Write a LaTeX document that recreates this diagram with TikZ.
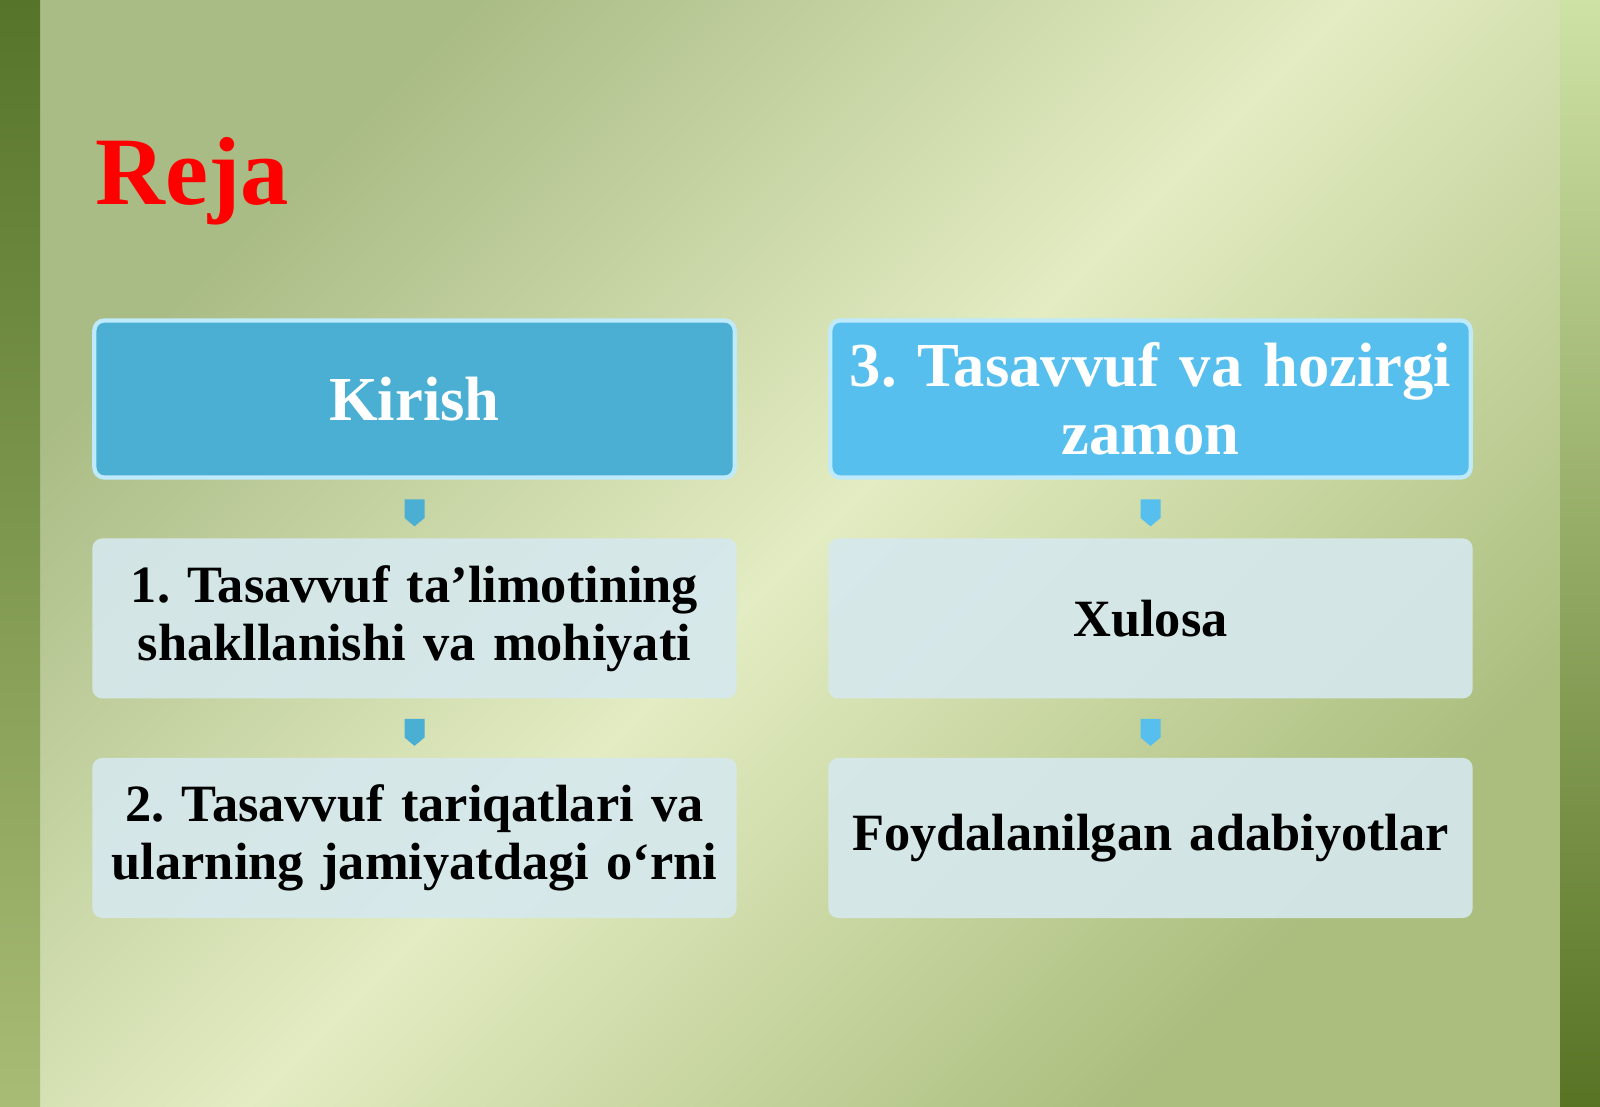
\documentclass[tikz,border=0pt]{standalone}
\usepackage{fontspec}
\setmainfont{Liberation Serif}
\usetikzlibrary{positioning,shapes.arrows}

\definecolor{bgdark}{HTML}{AABC86}
\definecolor{bglight}{HTML}{E3ECC2}
\definecolor{bgdarkb}{HTML}{ABBE7E}
\definecolor{chaptop}{HTML}{56752A}
\definecolor{chapbot}{HTML}{A9BC76}
\definecolor{ongtop}{HTML}{CFE2A6}
\definecolor{ongbot}{HTML}{587324}
\definecolor{kirishblue}{HTML}{4BAFD4}
\definecolor{zamonblue}{HTML}{56BFEE}
\definecolor{itembox}{HTML}{D6E8EE}
\definecolor{rejared}{HTML}{FF0000}

\pgfdeclarehorizontalshading{fonshade}{100bp}{color(0bp)=(bgdark); color(27bp)=(bgdark); color(50bp)=(bglight); color(73bp)=(bgdarkb); color(100bp)=(bgdarkb)}

\tikzset{
  sarlavha/.style={draw=white!75!cyan, line width=1.2pt, rounded corners=0.1cm,
    minimum width=6.4cm, minimum height=1.57cm, text width=6.2cm, inner xsep=0pt, align=center,
    font=\fontsize{17.8}{19.2}\selectfont\bfseries, text=white},
  bandbox/.style={fill=itembox, fill opacity=0.9, text opacity=1, rounded corners=0.1cm,
    minimum width=6.44cm, minimum height=1.6cm, text width=6.3cm, inner xsep=0pt, align=center,
    font=\fontsize{14.9}{16.6}\selectfont\bfseries, text=black},
  pastga/.style={single arrow, single arrow head extend=0pt, single arrow tip angle=100,
    shape border rotate=270, minimum width=0.2cm, minimum height=0.27cm, inner sep=0pt}
}

\begin{document}
\begin{tikzpicture}[x=0.01cm, y=-0.01cm, node distance=0.58cm]
    \frenchspacing
    % Fon
    \useasboundingbox (0,0) rectangle (1600,1107);
    \shade[shading=fonshade, shading angle=-45] (0,0) rectangle (1600,1107);
    \shade[top color=chaptop, bottom color=chapbot] (0,0) rectangle (40,1107);
    \shade[top color=ongtop, bottom color=ongbot] (1560,0) rectangle (1600,1107);

    % Sarlavha
    \node[text=rejared, font=\fontsize{27.5}{30}\selectfont\bfseries, anchor=base west, inner sep=0pt] (reja) at (95,205) {Reja};

    % Chap ustun
    \node[sarlavha, fill=kirishblue] (kirish) at (414.5,399) {Kirish};
    \node[bandbox, below=of kirish] (birinchi) {1. Tasavvuf ta’limotining\\shakllanishi va mohiyati};
    \node[bandbox, below=of birinchi] (ikkinchi) {2. Tasavvuf tariqatlari va\\ularning jamiyatdagi o‘rni};

    % O'ng ustun
    \node[sarlavha, fill=zamonblue] (uchinchi) at (1150.5,399) {3. Tasavvuf va hozirgi\\zamon};
    \node[bandbox, below=of uchinchi] (xulosa) {Xulosa};
    \node[bandbox, below=of xulosa] (adabiyot) {Foydalanilgan adabiyotlar};

    % Strelkalar
    \path (kirish) -- (birinchi) node[midway, pastga, fill=kirishblue] (s1) {};
    \path (birinchi) -- (ikkinchi) node[midway, pastga, fill=kirishblue] (s2) {};
    \path (uchinchi) -- (xulosa) node[midway, pastga, fill=zamonblue] (s3) {};
    \path (xulosa) -- (adabiyot) node[midway, pastga, fill=zamonblue] (s4) {};
\end{tikzpicture}
\end{document}
